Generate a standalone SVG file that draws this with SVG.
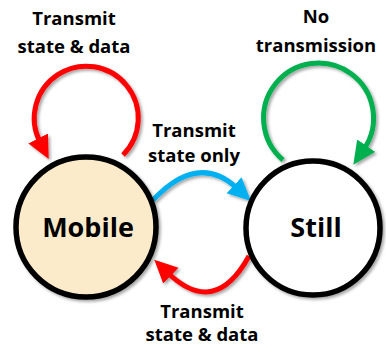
<svg xmlns="http://www.w3.org/2000/svg" width="386" height="346" viewBox="0 0 386 346">
<defs>
<filter id="sh" x="-20%" y="-20%" width="150%" height="150%">
<feDropShadow dx="2" dy="2" stdDeviation="1.5" flood-color="#000" flood-opacity="0.35"/>
</filter>
<marker id="ar-red" markerUnits="userSpaceOnUse" markerWidth="26" markerHeight="24" refX="4" refY="11" orient="auto" viewBox="0 0 26 24">
<path d="M0,0 L23,11 L0,22 z" fill="#FF0000"/>
</marker>
<marker id="ar-green" markerUnits="userSpaceOnUse" markerWidth="26" markerHeight="24" refX="4" refY="11" orient="auto" viewBox="0 0 26 24">
<path d="M0,0 L23,11 L0,22 z" fill="#00B050"/>
</marker>
<marker id="ar-blue" markerUnits="userSpaceOnUse" markerWidth="26" markerHeight="24" refX="4" refY="11" orient="auto" viewBox="0 0 26 24">
<path d="M0,0 L23,11 L0,22 z" fill="#00B0F0"/>
</marker>
</defs>
<style>
.node{stroke:#000;stroke-width:5.5;filter:url(#sh)}
.edge{fill:none;stroke-width:5;filter:url(#sh)}
.lbl{font-family:"Open Sans","Liberation Sans",sans-serif;font-weight:bold;font-size:18.5px;fill:#000;text-anchor:middle}
.nl{font-family:"Open Sans","Liberation Sans",sans-serif;font-weight:bold;font-size:27px;fill:#000;text-anchor:middle}
</style>
<g id="connectors">
<path class="edge" stroke="#FF0000" d="M123,155 A52,52 0 1 0 40,142" marker-end="url(#ar-red)"/>
<path class="edge" stroke="#00B050" d="M283,160 A55,55 0 1 1 364,149" marker-end="url(#ar-green)"/>
<path class="edge" stroke="#00B0F0" d="M153,200 Q198,152 237,188" marker-end="url(#ar-blue)"/>
<path class="edge" stroke="#FF0000" d="M249,256 Q215,318 168,273" marker-end="url(#ar-red)"/>
</g>
<g id="node-mobile">
<circle class="node" cx="86" cy="227" r="70" fill="#FCEBCB"/>
<text class="nl" x="88" y="237">Mobile</text>
</g>
<g id="node-still">
<circle class="node" cx="313" cy="228" r="67" fill="#FFFFFF"/>
<text class="nl" x="316" y="237">Still</text>
</g>
<g id="labels">
<text class="lbl" x="74" y="25">Transmit</text>
<text class="lbl" x="74" y="53">state &amp; data</text>
<text class="lbl" x="316" y="23">No</text>
<text class="lbl" x="316" y="52">transmission</text>
<text class="lbl" x="194" y="137">Transmit</text>
<text class="lbl" x="194" y="162">state only</text>
<text class="lbl" x="202" y="318">Transmit</text>
<text class="lbl" x="202" y="341">state &amp; data</text>
</g>
</svg>
